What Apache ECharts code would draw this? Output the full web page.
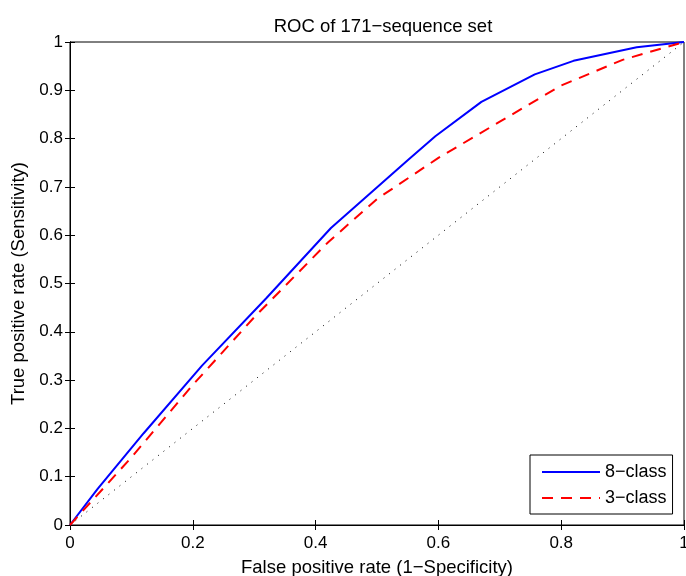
<!DOCTYPE html>
<html>
<head>
<meta charset="utf-8">
<script src="https://cdn.jsdelivr.net/npm/echarts@6/dist/echarts.min.js"></script>
<style>html,body{margin:0;padding:0;background:#fff}#c{width:686px;height:576px}</style>
</head>
<body>
<div id="c"></div>
<script>
const xTicks = [0, 0.2, 0.4, 0.6, 0.8, 1];
const yTicks = [0, 0.1, 0.2, 0.3, 0.4, 0.5, 0.6, 0.7, 0.8, 0.9, 1];
const fpr8 = [0, 0.045, 0.12, 0.215, 0.32, 0.425, 0.55, 0.595, 0.67, 0.757, 0.82, 0.923, 1];
const tpr8 = [0, 0.075, 0.19, 0.33, 0.47, 0.615, 0.755, 0.805, 0.876, 0.933, 0.961, 0.989, 1];
const fpr3 = [0, 0.1, 0.2, 0.3, 0.42, 0.5, 0.6, 0.7, 0.8, 0.9, 1];
const tpr3 = [0, 0.14, 0.29, 0.43, 0.585, 0.675, 0.76, 0.835, 0.91, 0.963, 1];
const diag = [0, 1];

const font = 'Liberation Sans, Arial, Helvetica, sans-serif';
const fmt = v => String(Math.round(v * 10) / 10);
const pairs = (xs, ys) => xs.map((x, i) => [x, ys[i]]);

const chart = echarts.init(document.getElementById('c'));
const tickStyle = {show: true, inside: true, length: 5, lineStyle: {color: '#000', width: 1}};
chart.setOption({
  animation: false,
  backgroundColor: '#fff',
  title: {
    text: 'ROC of 171\u2212sequence set',
    left: 378, top: 12, textAlign: 'center',
    textStyle: {fontFamily: font, fontSize: 18.5, fontWeight: 'normal', color: '#000'}
  },
  grid: {left: 70, right: 2, top: 42, bottom: 51, show: true, borderColor: '#000', borderWidth: 1,
         containLabel: false, outerBoundsMode: 'none'},
  legend: {
    left: 530, top: 455, orient: 'vertical',
    backgroundColor: '#fff', borderColor: '#000', borderWidth: 1,
    padding: [8, 6, 7, 11], itemGap: 8, itemWidth: 58, itemHeight: 14,
    itemStyle: {opacity: 0},
    textStyle: {fontFamily: font, fontSize: 18, color: '#000', padding: [0,0,0,0]},
    data: ['8\u2212class', '3\u2212class']
  },
  xAxis: [{
    type: 'value', min: 0, max: 1, interval: 0.2, position: 'bottom',
    name: 'False positive rate (1\u2212Specificity)', nameLocation: 'middle', nameGap: 33,
    nameTextStyle: {fontFamily: font, fontSize: 18.5, color: '#000'},
    axisLine: {show: true, lineStyle: {color: '#000'}},
    axisTick: tickStyle, splitLine: {show: false},
    axisLabel: {fontFamily: font, fontSize: 17, color: '#000', margin: 10, formatter: fmt}
  }, {
    type: 'value', min: 0, max: 1, interval: 0.2, position: 'top',
    axisLine: {show: true, lineStyle: {color: '#000'}},
    axisTick: tickStyle, splitLine: {show: false}, axisLabel: {show: false}
  }],
  yAxis: [{
    type: 'value', min: 0, max: 1, interval: 0.1, position: 'left',
    name: 'True positive rate (Sensitivity)', nameLocation: 'middle', nameGap: 39,
    nameTextStyle: {fontFamily: font, fontSize: 18.5, color: '#000'},
    axisLine: {show: true, lineStyle: {color: '#000'}},
    axisTick: tickStyle, splitLine: {show: false},
    axisLabel: {fontFamily: font, fontSize: 17, color: '#000', margin: 7, formatter: fmt}
  }, {
    type: 'value', min: 0, max: 1, interval: 0.1, position: 'right',
    axisLine: {show: true, lineStyle: {color: '#000'}},
    axisTick: tickStyle, splitLine: {show: false}, axisLabel: {show: false}
  }],
  series: [{
    name: '8\u2212class', type: 'line', symbol: 'none', data: pairs(fpr8, tpr8),
    lineStyle: {color: '#0000ff', width: 2}, itemStyle: {color: '#0000ff'}
  }, {
    name: '3\u2212class', type: 'line', symbol: 'none', data: pairs(fpr3, tpr3),
    lineStyle: {color: '#ff0000', width: 2, type: [11, 8]}, itemStyle: {color: '#ff0000'}
  }, {
    name: 'chance', type: 'line', symbol: 'none', data: pairs(diag, diag), silent: true,
    lineStyle: {color: '#000', width: 1, type: [1, 6]}, z: 1
  }]
});
</script>
</body>
</html>
